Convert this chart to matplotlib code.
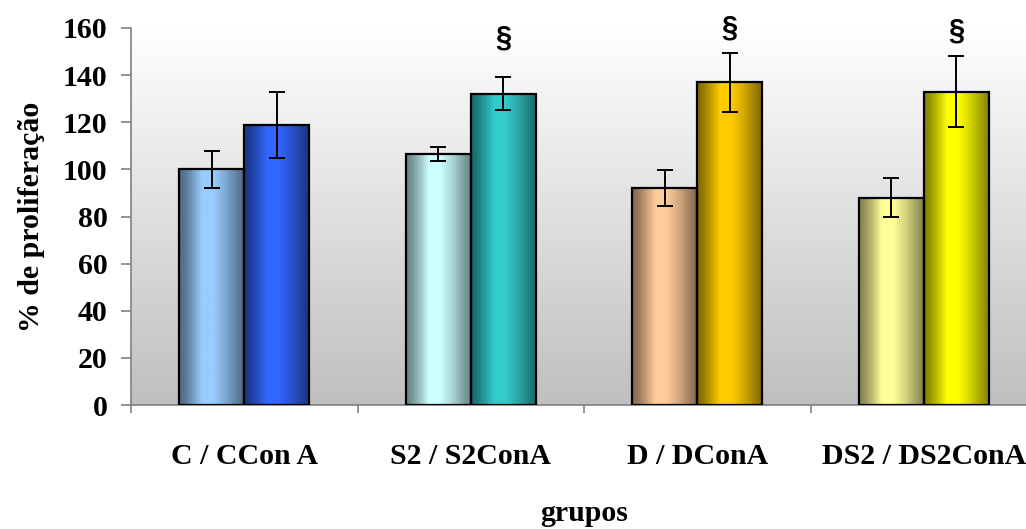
import numpy as np
import matplotlib
matplotlib.use("Agg")
import matplotlib.pyplot as plt
from matplotlib.colors import to_rgb

plt.rcParams["font.family"] = ["Liberation Serif", "DejaVu Serif"]
plt.rcParams["font.weight"] = "bold"

groups = ["C / CCon A", "S2 / S2ConA", "D / DConA", "DS2 / DS2ConA"]
basal = [100, 106.5, 92, 88]
basal_err = [8, 3, 7.6, 8.3]
cona = [119, 132, 137, 133]
cona_err = [14, 7, 12.6, 15]
basal_colors = ["#99ccff", "#ccffff", "#ffcc99", "#ffff99"]
cona_colors = ["#3366ff", "#33cccc", "#ffcc00", "#ffff00"]
sig_marks = ["", "§", "§", "§"]
sig_y = [0, 156, 160, 159]

FS = 21.5


def shade_profile(n=200):
    # brightness across a bar, dark edges, highlight a bit left of centre
    t = np.linspace(0, 1, n)
    knots = [0.0, 0.1, 0.22, 0.35, 0.52, 0.7, 0.86, 1.0]
    level = [0.5, 0.6, 0.78, 1.0, 1.0, 0.84, 0.65, 0.5]
    return np.interp(t, knots, level)


def fill_bar(ax, patch, color):
    f = shade_profile()
    rgb = np.array(to_rgb(color))
    img = (f[:, None] * rgb[None, :])[None, :, :]
    x0, w, h = patch.get_x(), patch.get_width(), patch.get_height()
    im = ax.imshow(img, extent=[x0, x0 + w, 0, h], aspect="auto",
                   interpolation="bilinear", zorder=2)
    im.set_clip_path(patch)


fig = plt.figure(figsize=(10.26, 5.29), dpi=100)
ax = fig.add_axes([131 / 1026, 124 / 529, 906 / 1026, 377 / 529])

# background gradient of the plot area
grad = np.linspace(0.75, 1.0, 256)[:, None]
grad = np.repeat(grad, 2, axis=1)
bg = np.stack([grad, grad, grad], axis=-1)
ax.imshow(bg, extent=[0, 1, 0, 1], transform=ax.transAxes, aspect="auto",
          origin="lower", zorder=0, interpolation="bilinear")

x = np.arange(len(groups))
w = 0.287
b1 = ax.bar(x - w / 2, basal, w, facecolor="none", edgecolor="black",
            linewidth=1.6, zorder=3)
b2 = ax.bar(x + w / 2, cona, w, facecolor="none", edgecolor="black",
            linewidth=1.6, zorder=3)
for p, c in zip(b1.patches, basal_colors):
    fill_bar(ax, p, c)
for p, c in zip(b2.patches, cona_colors):
    fill_bar(ax, p, c)

ax.errorbar(x - w / 2, basal, yerr=basal_err, fmt="none", ecolor="black",
            elinewidth=1.4, capsize=5.5, capthick=1.4, zorder=4)
ax.errorbar(x + w / 2, cona, yerr=cona_err, fmt="none", ecolor="black",
            elinewidth=1.4, capsize=5.5, capthick=1.4, zorder=4)

for xi, m, yy in zip(x, sig_marks, sig_y):
    if m:
        ax.text(xi + w / 2, yy, m, ha="center", va="center", fontsize=21,
                fontweight="bold", family=["Liberation Sans", "DejaVu Sans"],
                clip_on=False, zorder=5)

ax.set_xlim(-0.5, 3.5)
ax.set_ylim(0, 160)
ax.set_yticks(np.arange(0, 161, 20))
ax.set_xticks(x)
ax.set_xticklabels(groups)
ax.set_xticks(np.arange(-0.5, 3.6, 1), minor=True)
ax.tick_params(axis="x", which="major", length=0, pad=27, labelsize=FS)
ax.tick_params(axis="x", which="minor", length=6, width=1.2, color="#808080",
               direction="out")
ax.tick_params(axis="y", length=7, width=1.2, color="#808080", pad=10,
               labelsize=FS)

for s in ["top", "right"]:
    ax.spines[s].set_visible(False)
for s in ["left", "bottom"]:
    ax.spines[s].set_color("#808080")
    ax.spines[s].set_linewidth(1.2)

ax.set_xlabel("grupos", fontsize=FS, fontweight="bold", labelpad=22)
ax.set_ylabel("% de proliferação", fontsize=FS, fontweight="bold", labelpad=13)

fig.savefig("out.png", dpi=100)
